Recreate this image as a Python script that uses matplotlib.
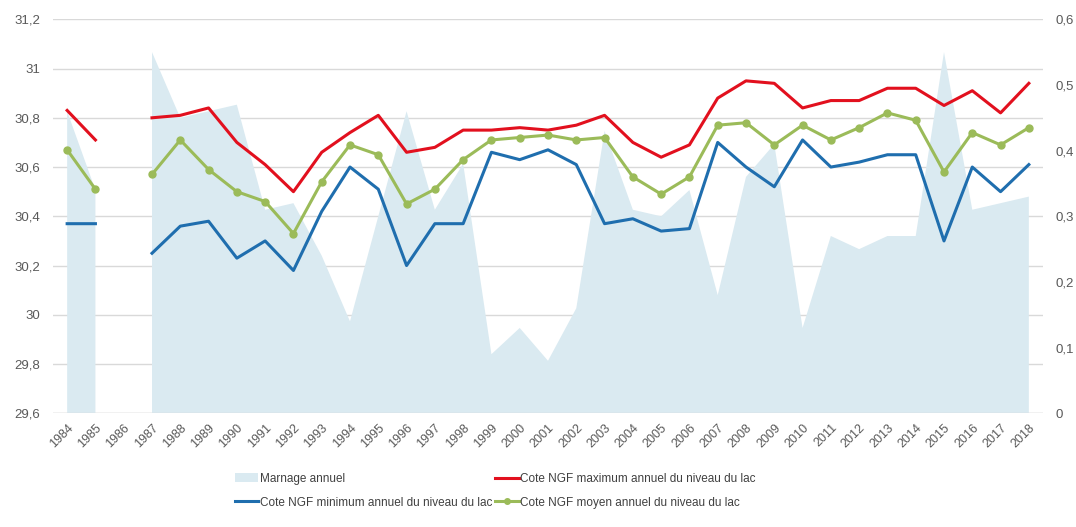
#!/usr/bin/env python

import numpy as np
import matplotlib
matplotlib.use('Agg')
import matplotlib.pyplot as plt
from matplotlib.patches import Patch
from matplotlib.lines import Line2D

plt.rcParams['font.family'] = ['Liberation Sans', 'DejaVu Sans']

###########################
## Data (NaN = pas de mesure)

years = list(range(1984, 2019))

cote_max = [30.83, 30.71, np.nan, 30.80, 30.81, 30.84, 30.70, 30.61, 30.50,
            30.66, 30.74, 30.81, 30.66, 30.68, 30.75, 30.75, 30.76, 30.75,
            30.77, 30.81, 30.70, 30.64, 30.69, 30.88, 30.95, 30.94, 30.84,
            30.87, 30.87, 30.92, 30.92, 30.85, 30.91, 30.82, 30.94]

cote_min = [30.37, 30.37, np.nan, 30.25, 30.36, 30.38, 30.23, 30.30, 30.18,
            30.42, 30.60, 30.51, 30.20, 30.37, 30.37, 30.66, 30.63, 30.67,
            30.61, 30.37, 30.39, 30.34, 30.35, 30.70, 30.60, 30.52, 30.71,
            30.60, 30.62, 30.65, 30.65, 30.30, 30.60, 30.50, 30.61]

cote_moy = [30.67, 30.51, np.nan, 30.57, 30.71, 30.59, 30.50, 30.46, 30.33,
            30.54, 30.69, 30.65, 30.45, 30.51, 30.63, 30.71, 30.72, 30.73,
            30.71, 30.72, 30.56, 30.49, 30.56, 30.77, 30.78, 30.69, 30.77,
            30.71, 30.76, 30.82, 30.79, 30.58, 30.74, 30.69, 30.76]

marnage = [0.46, 0.34, np.nan, 0.55, 0.45, 0.46, 0.47, 0.31, 0.32,
           0.24, 0.14, 0.30, 0.46, 0.31, 0.38, 0.09, 0.13, 0.08,
           0.16, 0.43, 0.31, 0.30, 0.34, 0.18, 0.36, 0.41, 0.13,
           0.27, 0.25, 0.27, 0.27, 0.55, 0.31, 0.32, 0.33]

left_ticks = [29.6, 29.8, 30.0, 30.2, 30.4, 30.6, 30.8, 31.0, 31.2]
left_labels = ['29,6', '29,8', '30', '30,2', '30,4', '30,6', '30,8', '31', '31,2']
right_ticks = [0, 0.1, 0.2, 0.3, 0.4, 0.5, 0.6]
right_labels = ['0', '0,1', '0,2', '0,3', '0,4', '0,5', '0,6']

###########################

c_area = '#DAEAF1'
c_max = '#E2101E'
c_min = '#1F6EAE'
c_moy = '#9BBB59'
c_txt = '#595959'

fig = plt.figure(figsize=(10.76, 5.27), dpi=100)
rect = [53/1076, 1 - 413.3/527, 990/1076, 394/527]

## base axes : grille + graduations de gauche
ax = fig.add_axes(rect)
ax.set_xlim(1983.5, 2018.5)
ax.set_ylim(29.6, 31.2)
ax.set_yticks(left_ticks)
ax.set_yticklabels(left_labels)
ax.set_xticks(years)
ax.set_xticklabels([str(y) for y in years], rotation=45, ha='right',
                   rotation_mode='anchor')
ax.grid(True, axis='y', color='#D9D9D9', lw=1)
ax.tick_params(axis='y', length=0, pad=9, labelsize=9.5, labelcolor=c_txt)
ax.tick_params(axis='x', length=0, pad=6, labelsize=9, labelcolor=c_txt)
for s in ax.spines.values():
    s.set_visible(False)

## marnage (axe de droite)
ax2 = ax.twinx()
ax2.fill_between(years, marnage, 0, color=c_area, lw=0)
ax2.set_ylim(0, 0.6)
ax2.set_yticks(right_ticks)
ax2.set_yticklabels(right_labels)
ax2.tick_params(axis='y', length=0, pad=9, labelsize=9.5, labelcolor=c_txt)
for s in ax2.spines.values():
    s.set_visible(False)

## cotes NGF
ax3 = ax.twinx()
ax3.set_ylim(29.6, 31.2)
ax3.plot(years, cote_max, color=c_max, lw=2.2)
ax3.plot(years, cote_min, color=c_min, lw=2.2)
ax3.plot(years, cote_moy, color=c_moy, lw=2.2, marker='o', ms=5)
ax3.set_yticks([])
for s in ax3.spines.values():
    s.set_visible(False)

## ligne de base
ax3.axhline(29.6, color='#D9D9D9', lw=1)

## legende
handles = [Patch(facecolor=c_area, edgecolor='none'),
           Line2D([], [], color=c_min, lw=2.2),
           Line2D([], [], color=c_max, lw=2.2),
           Line2D([], [], color=c_moy, lw=2.2, marker='o', ms=4)]
labels = ['Marnage annuel',
          'Cote NGF minimum annuel du niveau du lac',
          'Cote NGF maximum annuel du niveau du lac',
          'Cote NGF moyen annuel du niveau du lac']
fig.legend(handles, labels, ncol=2, loc='upper left',
           bbox_to_anchor=(230/1076, 1 - 468/527), frameon=False,
           fontsize=8.5, labelcolor='#404040', handlelength=2.0,
           handletextpad=0.1, columnspacing=0.3, labelspacing=1.0,
           borderaxespad=0)

fig.savefig('out.png', dpi=100)
